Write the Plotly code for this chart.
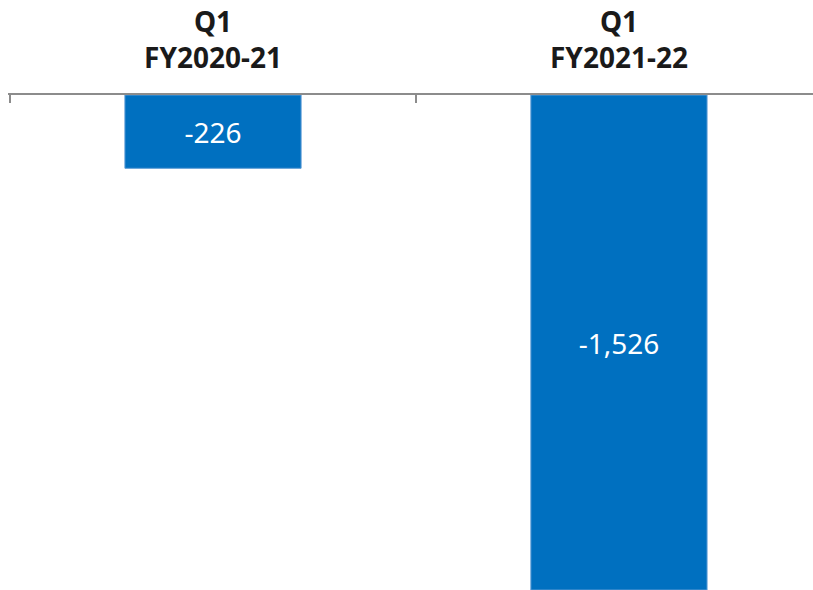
import plotly.graph_objects as go

categories = ["Q1<br>FY2020-21", "Q1<br>FY2021-22"]
values = [-226, -1526]
labels = ["-226", "-1,526"]

fig = go.Figure()
fig.add_trace(go.Bar(
    x=categories, y=values, text=labels,
    textposition="inside", insidetextanchor="middle",
    textfont=dict(family="Noto Sans", size=28, color="white"),
    marker=dict(color="#0070C0", line=dict(color="#5B9BD5", width=1)),
    width=0.434, cliponaxis=False,
))
fig.update_layout(
    width=813, height=590,
    margin=dict(l=8, r=0, t=95, b=0),
    paper_bgcolor="white", plot_bgcolor="white",
    showlegend=False,
    xaxis=dict(
        side="top", type="category", range=[-0.505, 1.478],
        showline=True, linecolor="#8C8C8C", linewidth=1.5,
        ticks="inside", ticklen=8, tickcolor="#8C8C8C", tickwidth=1.5,
        tickson="boundaries", showgrid=False, ticklabelstandoff=14,
        tickfont=dict(family="Noto Sans", size=28, color="#1A1A1A", weight="bold"),
    ),
    yaxis=dict(range=[-1526, 0], visible=False, showgrid=False, zeroline=False),
)
fig.write_html("out.html")
